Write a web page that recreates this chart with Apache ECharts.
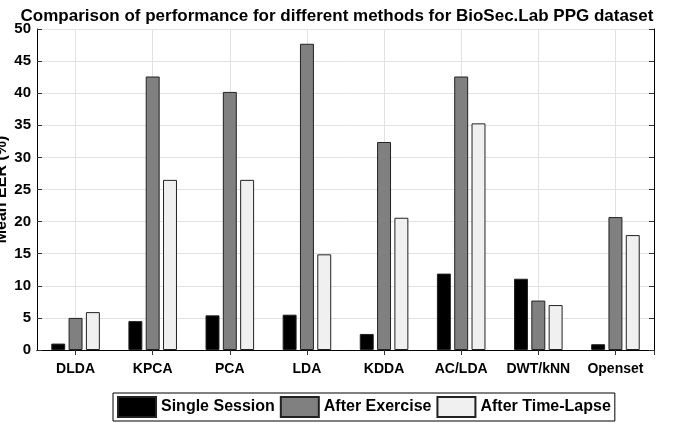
<!DOCTYPE html>
<html><head><meta charset="utf-8">
<script src="https://cdn.jsdelivr.net/npm/echarts@6/dist/echarts.min.js"></script>
<style>html,body{margin:0;padding:0;background:#fff}#c{width:674px;height:423px}</style>
</head><body><div id="c"></div>
<script>
const categories = ['DLDA','KPCA','PCA','LDA','KDDA','AC/LDA','DWT/kNN','Openset'];
const singleSession = [1.0, 4.5, 5.4, 5.5, 2.5, 11.9, 11.1, 0.9];
const afterExercise = [5.0, 42.6, 40.2, 47.7, 32.4, 42.6, 7.7, 20.7];
const afterTimeLapse = [5.9, 26.5, 26.5, 14.9, 20.6, 35.3, 7.0, 17.9];
const yTicks = [0,5,10,15,20,25,30,35,40,45,50];

// helper axis with half-category slots so grid lines / top ticks fall at category centres
const halfSlots = categories.flatMap(c => [c + '_a', c + '_b']);

const FONT = '"Liberation Sans", Arial, sans-serif';
const chart = echarts.init(document.getElementById('c'), null, {renderer:'canvas'});
const barStyle = c => ({color:c, borderColor:'#222', borderWidth:1});
const centreOnly = (i) => i % 2 === 1;
chart.setOption({
  animation:false,
  title:{text:'Comparison of performance for different methods for BioSec.Lab PPG dataset',
    left:'center', top:3, textStyle:{fontFamily:FONT, fontWeight:'bold', fontSize:17, color:'#000'}},
  grid:{left:37, right:20, top:29, bottom:73, outerBoundsMode:'none', containLabel:false},
  legend:{top:393, left:113, icon:'rect', itemWidth:38, itemHeight:20, itemGap:5,
    borderColor:'#000', borderWidth:1, padding:[3,4,3,4],
    textStyle:{fontFamily:FONT, fontWeight:'bold', fontSize:16, color:'#000'},
    data:['Single Session','After Exercise','After Time-Lapse']},
  xAxis:[{type:'category', data:categories, position:'bottom',
      axisLine:{lineStyle:{color:'#000', width:1}},
      axisTick:{show:true, interval:0, alignWithLabel:true, inside:true, length:5, lineStyle:{color:'#333'}},
      splitLine:{show:false},
      axisLabel:{interval:0, fontFamily:FONT, fontWeight:'bold', fontSize:14, color:'#000', margin:12}},
    {type:'category', data:halfSlots, position:'top',
      axisLine:{lineStyle:{color:'#000'}},
      axisTick:{show:true, interval:centreOnly, inside:true, length:5, lineStyle:{color:'#333'}},
      splitLine:{show:true, interval:centreOnly, lineStyle:{color:'#e2e2e2'}},
      axisLabel:{show:false}}],
  yAxis:[{type:'value', min:0, max:50, interval:5, name:'Mean EER (%)', nameLocation:'middle', nameGap:27,
      nameMoveOverlap:false,
      nameTextStyle:{fontFamily:FONT, fontWeight:'bold', fontSize:16, color:'#000'},
      axisLine:{show:true, lineStyle:{color:'#000'}},
      axisTick:{show:true, inside:true, length:5, lineStyle:{color:'#333'}},
      splitLine:{show:true, lineStyle:{color:'#e2e2e2'}},
      axisLabel:{fontFamily:FONT, fontWeight:'bold', fontSize:15, color:'#000', margin:6,
        formatter: v => yTicks.includes(v) ? String(v) : ''}},
    {type:'value', min:0, max:50, interval:5, position:'right',
      axisLine:{show:true, lineStyle:{color:'#000'}},
      axisTick:{show:true, inside:true, length:5, lineStyle:{color:'#333'}},
      splitLine:{show:false}, axisLabel:{show:false}}],
  series:[
    {name:'Single Session', type:'bar', xAxisIndex:0, data:singleSession, barGap:'24%', barCategoryGap:'37%', itemStyle:barStyle('#000000')},
    {name:'After Exercise', type:'bar', xAxisIndex:0, data:afterExercise, itemStyle:barStyle('#808080')},
    {name:'After Time-Lapse', type:'bar', xAxisIndex:0, data:afterTimeLapse, itemStyle:barStyle('#f0f0f0')}
  ]
});
</script></body></html>
